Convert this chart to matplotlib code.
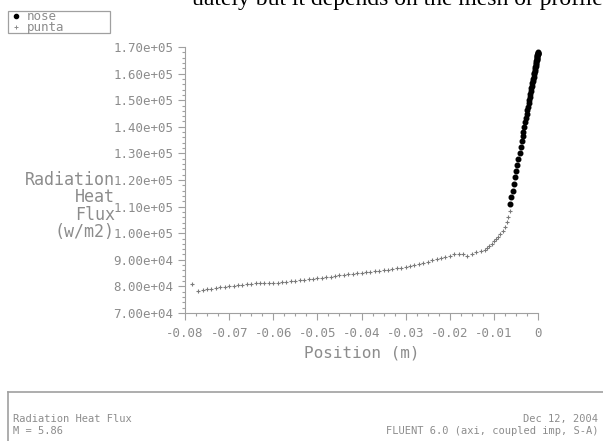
import numpy as np
import matplotlib.pyplot as plt
from matplotlib.ticker import MultipleLocator, FuncFormatter
from matplotlib.patches import Rectangle
from matplotlib.lines import Line2D

plt.rcParams['axes.unicode_minus'] = False
plt.rcParams['font.family'] = ['DejaVu Sans Mono']

# punta series (position m, radiation heat flux W/m2)
punta_x = [-0.0785, -0.0770, -0.0760, -0.0750, -0.0740, -0.0730, -0.0720, -0.0710,
           -0.0700, -0.0690, -0.0680, -0.0670, -0.0660, -0.0650, -0.0640, -0.0630,
           -0.0620, -0.0610, -0.0600, -0.0590, -0.0580, -0.0570, -0.0560, -0.0550,
           -0.0540, -0.0530, -0.0520, -0.0510, -0.0500, -0.0490, -0.0480, -0.0470,
           -0.0460, -0.0450, -0.0440, -0.0430, -0.0420, -0.0410, -0.0400, -0.0390,
           -0.0380, -0.0370, -0.0360, -0.0350, -0.0340, -0.0330, -0.0320, -0.0310,
           -0.0300, -0.0290, -0.0280, -0.0270, -0.0260, -0.0250, -0.0240, -0.0230,
           -0.0220, -0.0210, -0.0200, -0.0190, -0.0180, -0.0170, -0.0160, -0.0150,
           -0.0140, -0.0130, -0.0120, -0.0115, -0.0110, -0.0105, -0.0100, -0.0095,
           -0.0090, -0.0085, -0.0080, -0.0075, -0.0070, -0.0067, -0.0064]
punta_y = [81000, 78300, 78800, 79000, 79200, 79400, 79600, 79800,
           80000, 80200, 80400, 80600, 80800, 81000, 81100, 81200,
           81200, 81300, 81300, 81400, 81500, 81700, 81900, 82100,
           82300, 82500, 82700, 82900, 83100, 83300, 83500, 83700,
           83900, 84100, 84300, 84500, 84700, 84900, 85100, 85300,
           85500, 85700, 85900, 86100, 86300, 86600, 86800, 87100,
           87400, 87700, 88100, 88500, 88900, 89300, 89800, 90200,
           90600, 91000, 91500, 92000, 92200, 92000, 91600, 92100,
           92800, 93300, 93800, 94500, 95300, 96100, 96900, 97700,
           98600, 99600, 100800, 102300, 104200, 106200, 108500]

# nose series
nose_x = [-0.00630, -0.00602, -0.00575, -0.00547, -0.00519, -0.00494, -0.00468, -0.00442,
          -0.00417, -0.00393, -0.00371, -0.00350, -0.00330, -0.00310, -0.00291, -0.00273,
          -0.00257, -0.00241, -0.00226, -0.00211, -0.00198, -0.00185, -0.00173, -0.00160,
          -0.00149, -0.00138, -0.00128, -0.00118, -0.00109, -0.00101, -0.00092, -0.00084,
          -0.00076, -0.00069, -0.00062, -0.00055, -0.00049, -0.00043, -0.00038, -0.00032,
          -0.00028, -0.00023, -0.00019, -0.00015, -0.00012, -0.00009, -0.00007, -0.00004,
          -0.00002, 0.0]
nose_y = [111000, 113500, 116000, 118500, 121000, 123300, 125700, 128000,
          130300, 132500, 134500, 136400, 138200, 140000, 141700, 143300,
          144800, 146200, 147600, 148900, 150100, 151300, 152400, 153500,
          154500, 155500, 156400, 157300, 158100, 158900, 159700, 160400,
          161100, 161800, 162400, 163000, 163600, 164100, 164600, 165100,
          165500, 165900, 166300, 166600, 166900, 167200, 167400, 167600,
          167800, 168000]

grey = '#8c8c8c'

fig = plt.figure(figsize=(6.03, 4.41), dpi=100)
ax = fig.add_axes([185/603, 1 - 313/441, 353/603, 266/441])

ax.plot(punta_x, punta_y, linestyle='none', marker='+', markersize=3.5,
        markeredgewidth=0.8, color='#7a7a7a', clip_on=False)
ax.plot(nose_x, nose_y, linestyle='none', marker='o', markersize=3.3,
        color='black', clip_on=False)

ax.set_xlim(-0.08, 0)
ax.set_ylim(70000, 170000)

for s in ['top', 'right']:
    ax.spines[s].set_visible(False)
for s in ['left', 'bottom']:
    ax.spines[s].set_color('#a0a0a0')
    ax.spines[s].set_linewidth(0.8)

ax.xaxis.set_major_locator(MultipleLocator(0.01))
ax.xaxis.set_minor_locator(MultipleLocator(0.0025))
ax.yaxis.set_major_locator(MultipleLocator(10000))
ax.yaxis.set_minor_locator(MultipleLocator(2000))
ax.xaxis.set_major_formatter(FuncFormatter(lambda v, p: '%g' % round(v, 3)))
ax.yaxis.set_major_formatter(FuncFormatter(lambda v, p: '%.2e' % v))
ax.tick_params(which='both', colors='#a0a0a0', labelcolor=grey, labelsize=9, width=0.8)
ax.tick_params(which='major', length=5)
ax.tick_params(which='minor', length=2.5)
ax.tick_params(axis='x', pad=5)

ax.set_xlabel('Position (m)', fontsize=11.5, color=grey, labelpad=4)
fig.text(115/603, 1 - 206/441, 'Radiation\nHeat\nFlux\n(w/m2)', ha='right', va='center',
         fontsize=12, color=grey, linespacing=0.95)

# legend box
fig.patches.append(Rectangle((8/603, 1 - 33/441), 102/603, 22/441, transform=fig.transFigure,
                             fill=False, edgecolor='#a0a0a0', linewidth=0.9))
fig.lines.append(Line2D([16/603], [1 - 16/441], transform=fig.transFigure, marker='o',
                        markersize=3, color='black'))
fig.lines.append(Line2D([16/603], [1 - 27/441], transform=fig.transFigure, marker='+',
                        markersize=3, markeredgewidth=0.7, color='#8c8c8c'))
fig.text(27/603, 1 - 16/441, 'nose', fontsize=9, color=grey, va='center')
fig.text(27/603, 1 - 27.5/441, 'punta', fontsize=9, color=grey, va='center')

# footer box
fig.lines.append(Line2D([8/603, 1.0], [1 - 392/441, 1 - 392/441], transform=fig.transFigure,
                        color='#a0a0a0', linewidth=1.2))
fig.lines.append(Line2D([8/603, 8/603], [1 - 392/441, 0], transform=fig.transFigure,
                        color='#a0a0a0', linewidth=1.2))
fig.text(13/603, 1 - 419/441, 'Radiation Heat Flux', fontsize=7.5, color=grey, va='center')
fig.text(13/603, 1 - 431/441, 'M = 5.86', fontsize=7.5, color=grey, va='center')
fig.text(598/603, 1 - 419/441, 'Dec 12, 2004', fontsize=7.5, color=grey, va='center', ha='right')
fig.text(598/603, 1 - 431/441, 'FLUENT 6.0 (axi, coupled imp, S-A)', fontsize=7.5, color=grey,
         va='center', ha='right')

# clipped line of document text above the figure
fig.text(192/603, 1 - 5/441, 'uately but it depends on the mesh or profile.', fontsize=17,
         family='Liberation Serif', color='black', va='baseline')

fig.savefig('out.png', dpi=100)
